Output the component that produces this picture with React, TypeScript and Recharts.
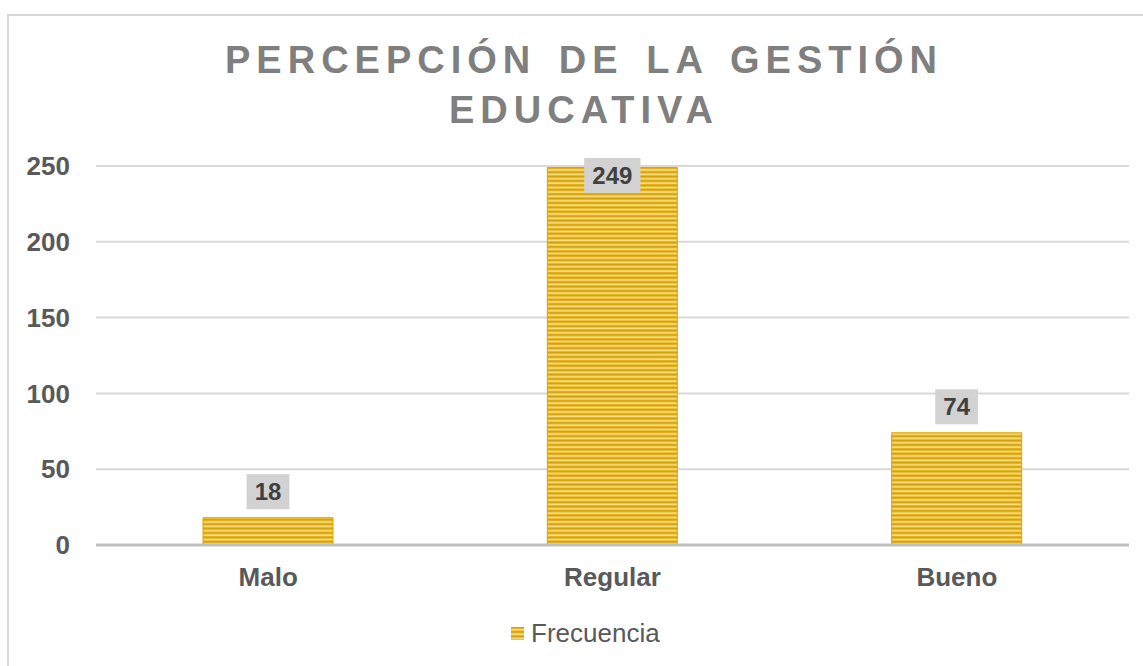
import { Bar, BarChart, CartesianGrid, LabelList, XAxis, YAxis } from "recharts";

const categories = ["Malo", "Regular", "Bueno"];
const frecuencia = [18, 249, 74];
const yTicks = [0, 50, 100, 150, 200, 250];

const data = categories.map((c, i) => ({ categoria: c, Frecuencia: frecuencia[i] }));

const GREY_TEXT = "#595959";
const FONT = "'Liberation Sans', Arial, sans-serif";

function StripeDefs({ id }: { id: string }) {
  return (
    <defs>
      <pattern id={id} width="8" height="4.4" patternUnits="userSpaceOnUse">
        <rect width="8" height="4.4" fill="#e6b11c" />
        <rect y="0" width="8" height="1" fill="#d39f00" />
        <rect y="2" width="8" height="1.6" fill="#f6dd86" />
      </pattern>
    </defs>
  );
}

function ValueLabel(props: any) {
  const { x, y, width, value } = props;
  const cx = x + width / 2;
  const text = String(value);
  const w = text.length * 13.4 + 16;
  const h = 35;
  // Excel tucks the label inside the bar when it would go past the plot top
  const cy = y - 26 < 175 ? y + 8 : y - 26;
  return (
    <g>
      <rect x={cx - w / 2} y={cy - h / 2} width={w} height={h} fill="#d2d2d2" />
      <text
        x={cx}
        y={cy}
        textAnchor="middle"
        dominantBaseline="central"
        fontFamily={FONT}
        fontWeight="bold"
        fontSize={24}
        fill="#404040"
      >
        {text}
      </text>
    </g>
  );
}

export default function App() {
  const tickStyle = { fill: GREY_TEXT, fontSize: 26, fontWeight: "bold", fontFamily: FONT };
  return (
    <div style={{ position: "fixed", left: 0, top: 0, width: 1143, height: 666, background: "#fff", overflow: "hidden" }}>
      <div
        style={{
          position: "absolute",
          left: 7,
          top: 14,
          width: 1200,
          height: 700,
          border: "2px solid #d9d9d9",
        }}
      />
      <div
        style={{
          position: "absolute",
          left: 0,
          top: 35,
          width: 1168,
          textAlign: "center",
          fontFamily: FONT,
          fontWeight: "bold",
          fontSize: 38,
          lineHeight: "50px",
          letterSpacing: 6,
          wordSpacing: 6,
          color: "#7f7f7f",
        }}
      >
        PERCEPCIÓN DE LA GESTIÓN
        <br />
        EDUCATIVA
      </div>
      <div style={{ position: "absolute", left: 0, top: 0 }}>
        <BarChart
          width={1143}
          height={666}
          data={data}
          margin={{ top: 166, right: 14, left: 16, bottom: 91 }}
          barCategoryGap={107}
        >
          <StripeDefs id="stripes" />
          <CartesianGrid stroke="#d9d9d9" strokeWidth={2} vertical={false} />
          <XAxis
            dataKey="categoria"
            height={30}
            axisLine={{ stroke: "#bfbfbf", strokeWidth: 3 }}
            tickLine={false}
            tickMargin={17}
            tick={tickStyle}
          />
          <YAxis
            width={80}
            domain={[0, 250]}
            ticks={yTicks}
            axisLine={false}
            tickLine={false}
            tickMargin={20}
            tick={tickStyle}
          />
          <Bar dataKey="Frecuencia" fill="url(#stripes)" stroke="#dca500" strokeWidth={1} isAnimationActive={false}>
            <LabelList dataKey="Frecuencia" content={<ValueLabel />} />
          </Bar>
        </BarChart>
      </div>
      <div
        style={{
          position: "absolute",
          left: 511,
          top: 620,
          display: "flex",
          alignItems: "center",
          fontFamily: FONT,
          fontSize: 26,
          lineHeight: "26px",
          color: GREY_TEXT,
        }}
      >
        <svg width={13} height={13} style={{ marginRight: 7 }}>
          <StripeDefs id="stripesLegend" />
          <rect width={13} height={13} fill="url(#stripesLegend)" />
        </svg>
        <span>Frecuencia</span>
      </div>
    </div>
  );
}
